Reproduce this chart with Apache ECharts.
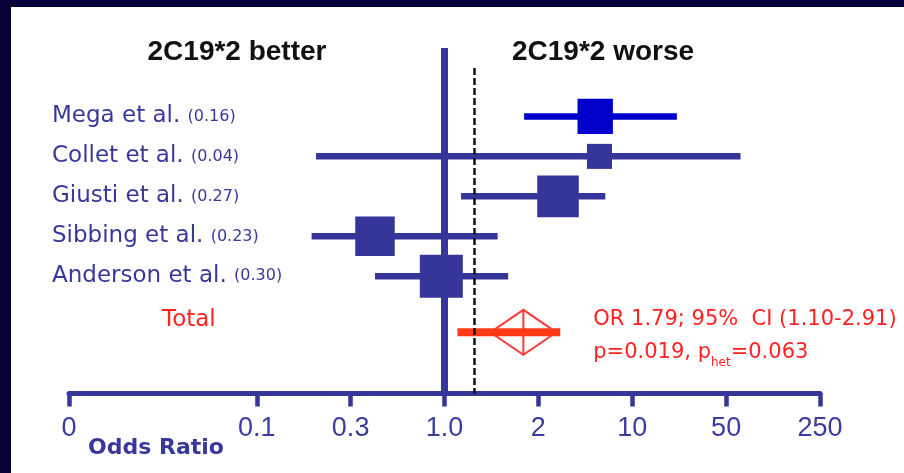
<!DOCTYPE html>
<html>
<head>
<meta charset="utf-8">
<title>CYP2C19*2 and clopidogrel outcome – forest plot</title>
<script src="https://cdn.jsdelivr.net/npm/echarts@6.0.0/dist/echarts.min.js"></script>
<style>
  html, body { margin: 0; padding: 0; background: #ffffff; }
  #chart { width: 904px; height: 473px; }
</style>
</head>
<body>
<div id="chart"></div>
<script>
// ---- Study-level results: odds ratio, 95% CI and meta-analysis weight ----
const studies   = ['Mega et al.', 'Collet et al.', 'Giusti et al.', 'Sibbing et al.', 'Anderson et al.'];
const weights   = [0.16, 0.04, 0.27, 0.23, 0.30];
const oddsRatio = [5.3, 5.7, 2.8, 0.41, 0.96];
const ciLow     = [1.8, 0.20, 1.13, 0.19, 0.41];
const ciHigh    = [21.5, 64, 6.3, 1.48, 1.6];

// ---- Pooled estimate ----
const totalLabel = 'Total';
const totalOR = 1.79;
const totalCI = [1.10, 2.91];
const pValue = 0.019;
const pHet = 0.063;
const dashedLineOR = 1.25;

// ---- Odds-ratio axis ticks ----
const tickValues = [0, 0.1, 0.3, 1.0, 2, 10, 50, 250];
const tickLabels = ['0', '0.1', '0.3', '1.0', '2', '10', '50', '250'];

// ---- Layout / style ----
const tickSlots = [0, 2, 3, 4, 5, 6, 7, 8];   // evenly spaced tick positions
const totalRowGap = 0.4;                      // extra space above the pooled row
const ROW_MIN = -1.71, ROW_MAX = 6.93;
const navy = '#060038';
const studyBlue = '#35359a';
const megaBlue = '#0000cc';
const labelBlue = '#38389c';
const textRed = '#ff2222';
const barRed = '#ff3a14';
const studyColors = [megaBlue, studyBlue, studyBlue, studyBlue, studyBlue];
const bodyFont = 'DejaVu Sans';

// Odds ratio -> axis position (log interpolation between neighbouring ticks)
function toSlot(v) {
  const n = tickValues.length;
  for (let i = 0; i < n - 1; i++) {
    const a = tickValues[i], b = tickValues[i + 1];
    if (v <= b || i === n - 2) {
      const t = a === 0 ? v / b : Math.log(v / a) / Math.log(b / a);
      return tickSlots[i] + t * (tickSlots[i + 1] - tickSlots[i]);
    }
  }
}

const studyRows = studies.map((s, i) => i);
const totalRow = studies.length + totalRowGap;
const rowValues = studyRows.concat([totalRow]);

function rowLabel(v) {
  const i = rowValues.findIndex(r => Math.abs(r - v) < 1e-6);
  if (i < 0) return '';
  if (i === studies.length) return '{t|' + totalLabel + '}';
  return '{n|' + studies[i] + ' }{w|(' + weights[i].toFixed(2) + ')}';
}

const studyData = studies.map((s, i) => [
  toSlot(oddsRatio[i]), toSlot(ciLow[i]), toSlot(ciHigh[i]), studyRows[i], weights[i]
]);
const totalData = [[toSlot(totalOR), toSlot(totalCI[0]), toSlot(totalCI[1]), totalRow]];

const annotation =
  '{a|OR ' + totalOR.toFixed(2) + '; 95%  CI (' + totalCI[0].toFixed(2) + '-' + totalCI[1].toFixed(2) + ')}\n' +
  '{a|p=' + pValue.toFixed(3) + ', p}{s|het}{a|=' + pHet.toFixed(3) + '}';

const chart = echarts.init(document.getElementById('chart'), null, { renderer: 'canvas' });

chart.setOption({
  animation: false,
  backgroundColor: '#ffffff',
  grid: { left: 69, right: 84, top: 48, bottom: 79.5, outerBoundsMode: 'none', containLabel: false },
  xAxis: {
    type: 'value',
    position: 'bottom',
    min: 0,
    max: 8,
    splitLine: { show: false },
    axisLine: { show: true, onZero: false, lineStyle: { color: studyBlue, width: 5 } },
    axisTick: {
      show: true, length: 13, customValues: tickSlots,
      lineStyle: { color: studyBlue, width: 4.5 }
    },
    axisLabel: {
      customValues: tickSlots,
      margin: 22,
      color: '#3c3ca0',
      fontFamily: 'Liberation Sans',
      fontSize: 27,
      formatter: v => {
        const i = tickSlots.findIndex(s => Math.abs(s - v) < 1e-6);
        return i < 0 ? '' : tickLabels[i];
      }
    }
  },
  yAxis: {
    type: 'value',
    inverse: true,
    min: ROW_MIN,
    max: ROW_MAX,
    splitLine: { show: false },
    axisLine: { show: false },
    axisTick: { show: false },
    axisLabel: {
      customValues: rowValues,
      align: 'left',
      margin: 17,
      fontFamily: bodyFont,
      fontSize: 23,
      color: labelBlue,
      formatter: rowLabel,
      rich: {
        n: { fontFamily: bodyFont, fontSize: 23, color: labelBlue },
        w: { fontFamily: bodyFont, fontSize: 16, color: labelBlue },
        t: { fontFamily: bodyFont, fontSize: 23, color: textRed, padding: [0, 0, 24, 110] }
      }
    }
  },
  graphic: [
    { type: 'rect', silent: true, z: -10, shape: { x: 0, y: 0, width: 904, height: 7 }, style: { fill: navy } },
    { type: 'rect', silent: true, z: -10, shape: { x: 0, y: 0, width: 11, height: 473 }, style: { fill: navy } },
    {
      type: 'text', silent: true, x: 237, y: 52,
      style: { text: '2C19*2 better', font: 'bold 28px "Liberation Sans"', fill: '#111111',
               align: 'center', verticalAlign: 'middle' }
    },
    {
      type: 'text', silent: true, x: 603, y: 52,
      style: { text: '2C19*2 worse', font: 'bold 28px "Liberation Sans"', fill: '#111111',
               align: 'center', verticalAlign: 'middle' }
    },
    {
      type: 'text', silent: true, x: 88, y: 448,
      style: { text: 'Odds Ratio', font: 'bold 22px "DejaVu Sans"', fill: labelBlue,
               align: 'left', verticalAlign: 'middle' }
    }
  ],
  series: [
    {
      name: 'Studies',
      type: 'custom',
      silent: true,
      clip: false,
      data: studyData,
      encode: { x: [0, 1, 2], y: 3 },
      renderItem: (params, api) => {
        const row = api.value(3);
        const c = api.coord([api.value(0), row]);
        const lo = api.coord([api.value(1), row]);
        const hi = api.coord([api.value(2), row]);
        const size = 14.7 + 51.7 * Math.sqrt(api.value(4));
        const color = studyColors[params.dataIndex];
        return {
          type: 'group',
          children: [
            { type: 'rect', shape: { x: lo[0], y: c[1] - 3.25, width: hi[0] - lo[0], height: 6.5 },
              style: { fill: color } },
            { type: 'rect', shape: { x: c[0] - size / 2, y: c[1] - size / 2, width: size, height: size },
              style: { fill: color } }
          ]
        };
      },
      markLine: {
        silent: true,
        symbol: ['none', 'none'],
        label: { show: false },
        emphasis: { disabled: true },
        data: [
          { xAxis: toSlot(1), lineStyle: { color: studyBlue, width: 7, type: 'solid' } },
          [
            { coord: [toSlot(dashedLineOR), ROW_MIN + 0.5],
              lineStyle: { color: '#111111', width: 2.5, type: [7, 3] } },
            { coord: [toSlot(dashedLineOR), ROW_MAX] }
          ]
        ]
      }
    },
    {
      name: 'Total',
      type: 'custom',
      silent: true,
      clip: false,
      data: totalData,
      encode: { x: [0, 1, 2], y: 3 },
      renderItem: (params, api) => {
        const row = api.value(3);
        const c = api.coord([api.value(0), row]);
        const lo = api.coord([api.value(1), row]);
        const hi = api.coord([api.value(2), row]);
        const hw = 33, hh = 22.5;
        return {
          type: 'group',
          children: [
            { type: 'polygon',
              shape: { points: [[c[0] - hw, c[1]], [c[0], c[1] - hh], [c[0] + hw, c[1]], [c[0], c[1] + hh]] },
              style: { fill: 'none', stroke: '#ff3c3c', lineWidth: 2 } },
            { type: 'line', shape: { x1: c[0], y1: c[1] - hh, x2: c[0], y2: c[1] + hh },
              style: { stroke: '#ff3c3c', lineWidth: 2 } },
            { type: 'rect', shape: { x: lo[0], y: c[1] - 4, width: hi[0] - lo[0], height: 8 },
              style: { fill: barRed } },
            { type: 'text', x: hi[0] + 33, y: c[1] + 4,
              style: {
                text: annotation,
                align: 'left',
                verticalAlign: 'middle',
                rich: {
                  a: { fontFamily: bodyFont, fontSize: 21, lineHeight: 33, fill: textRed, color: textRed },
                  s: { fontFamily: bodyFont, fontSize: 12, lineHeight: 24, verticalAlign: 'bottom',
                       fill: textRed, color: textRed }
                }
              } }
          ]
        };
      }
    }
  ]
});
</script>
</body>
</html>
